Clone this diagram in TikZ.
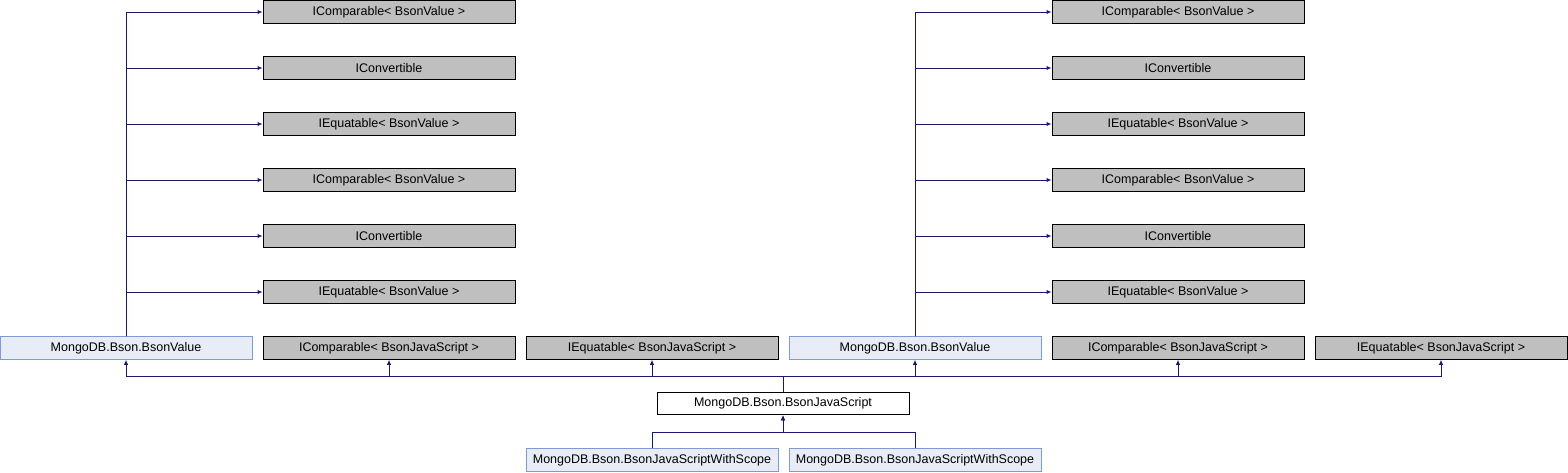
\documentclass[tikz,border=0pt]{standalone}
\usepackage{fontspec}
\setmainfont{Liberation Sans}
\usetikzlibrary{arrows.meta}
\definecolor{edgeblue}{HTML}{191970}
\definecolor{extfill}{HTML}{BFBFBF}
\definecolor{docfill}{HTML}{E8ECF6}
\definecolor{docline}{HTML}{7D9AD2}
\tikzset{
  box/.style={rectangle, minimum width=252pt, minimum height=22.5pt, inner sep=0pt,
    font=\fontsize{12.5}{14}\selectfont, line width=1pt},
  ext/.style={box, draw=black, fill=extfill},
  doc/.style={box, draw=docline, fill=docfill},
  cur/.style={box, draw=black, fill=white},
  edge/.style={draw=edgeblue, line width=1pt, -{Latex[length=5pt,width=4.5pt]}}
}
\begin{document}
\begin{tikzpicture}[x=1pt,y=-1pt]
\useasboundingbox (0,0) rectangle (1568,472);
% left group top
\node[ext] (la1) at (389,12) {IComparable< BsonValue >};
\node[ext] (la2) at (389,68) {IConvertible};
\node[ext] (la3) at (389,124) {IEquatable< BsonValue >};
\node[ext] (la4) at (389,180) {IComparable< BsonValue >};
\node[ext] (la5) at (389,236) {IConvertible};
\node[ext] (la6) at (389,292) {IEquatable< BsonValue >};
% right group top
\node[ext] (ra1) at (1178,12) {IComparable< BsonValue >};
\node[ext] (ra2) at (1178,68) {IConvertible};
\node[ext] (ra3) at (1178,124) {IEquatable< BsonValue >};
\node[ext] (ra4) at (1178,180) {IComparable< BsonValue >};
\node[ext] (ra5) at (1178,236) {IConvertible};
\node[ext] (ra6) at (1178,292) {IEquatable< BsonValue >};
% middle row
\node[doc] (bv1) at (126,348) {MongoDB.Bson.BsonValue};
\node[ext] (ic1) at (389,348) {IComparable< BsonJavaScript >};
\node[ext] (ie1) at (652,348) {IEquatable< BsonJavaScript >};
\node[doc] (bv2) at (915,348) {MongoDB.Bson.BsonValue};
\node[ext] (ic2) at (1178,348) {IComparable< BsonJavaScript >};
\node[ext] (ie2) at (1441,348) {IEquatable< BsonJavaScript >};
% current
\node[cur] (bjs) at (783,403.5) {MongoDB.Bson.BsonJavaScript};
% children
\node[doc] (ws1) at (652,460) {MongoDB.Bson.BsonJavaScriptWithScope};
\node[doc] (ws2) at (915,460) {MongoDB.Bson.BsonJavaScriptWithScope};
% connectors
\coordinate (bus) at (783,376);
\coordinate (bus2) at (783,432);
\foreach \p in {bv1,ic1,ie1,bv2,ic2,ie2}
  \draw[edge] (bjs.north) -- (bus) -| (\p.south);
\draw[edge] (ws1.north) |- (bus2) -- (bjs.south);
\draw[edge] (ws2.north) |- (bus2) -- (bjs.south);
\foreach \t in {la1,la2,la3,la4,la5,la6}
  \draw[edge] (bv1.north) |- (\t.west);
\foreach \t in {ra1,ra2,ra3,ra4,ra5,ra6}
  \draw[edge] (bv2.north) |- (\t.west);
\end{tikzpicture}
\end{document}
